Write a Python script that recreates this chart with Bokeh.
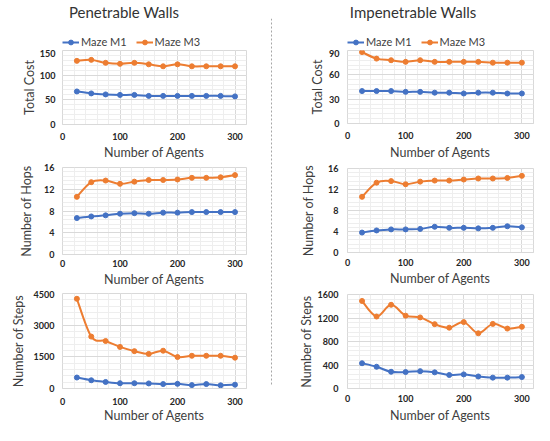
import numpy as np
from bokeh.plotting import figure
from bokeh.models import Range1d, FixedTicker, Legend, LegendItem, Span
from bokeh.layouts import column, row, Spacer
from bokeh.core.properties import value
from bokeh.embed import file_html
from bokeh.resources import INLINE

# ---------------- data ----------------
agents = [25, 50, 75, 100, 125, 150, 175, 200, 225, 250, 275, 300]
x_ticks = [0, 100, 200, 300]
x_max = 320
x_minor_step = 20

series_names = ["Maze M1", "Maze M3"]
col_titles = ["Penetrable Walls", "Impenetrable Walls"]
y_labels = ["Total Cost", "Number of Hops", "Number of Steps"]
x_label = "Number of Agents"

pen_cost_m1 = [67, 63, 61, 60, 60, 58, 58, 58, 58, 58, 58, 57]
pen_cost_m3 = [129, 131, 125, 123, 125, 122, 118, 122, 118, 118, 118, 118]
imp_cost_m1 = [40, 40, 40, 39, 39, 38, 38, 37, 38, 38, 37, 37]
imp_cost_m3 = [88, 80, 78, 76, 78, 76, 76, 76, 76, 75, 75, 75]

pen_hops_m1 = [6.7, 7.0, 7.2, 7.5, 7.6, 7.5, 7.7, 7.7, 7.8, 7.8, 7.8, 7.8]
pen_hops_m3 = [10.6, 13.3, 13.6, 13.0, 13.4, 13.7, 13.7, 13.8, 14.1, 14.1, 14.2, 14.6]
imp_hops_m1 = [3.8, 4.2, 4.4, 4.4, 4.5, 4.9, 4.7, 4.7, 4.6, 4.7, 5.0, 4.8]
imp_hops_m3 = [10.6, 13.3, 13.6, 13.0, 13.5, 13.7, 13.7, 13.9, 14.1, 14.1, 14.2, 14.6]

pen_steps_m1 = [520, 390, 310, 250, 250, 240, 210, 220, 160, 210, 150, 180]
pen_steps_m3 = [4250, 2460, 2250, 1970, 1770, 1640, 1790, 1490, 1550, 1550, 1550, 1460]
imp_steps_m1 = [430, 370, 285, 280, 295, 275, 230, 240, 205, 185, 185, 195]
imp_steps_m3 = [1490, 1225, 1425, 1240, 1210, 1095, 1035, 1130, 940, 1100, 1020, 1050]

pen_cost_ticks = [0, 50, 100, 150]
imp_cost_ticks = [0, 30, 60, 90]
hops_ticks = [0, 4, 8, 12, 16]
pen_steps_ticks = [0, 1500, 3000, 4500]
imp_steps_ticks = [0, 400, 800, 1200, 1600]

# ---------------- style ----------------
BLUE = "#4472C4"
ORANGE = "#ED7D31"
FONT = "Lato"
TICK_COLOR = "#262626"
LABEL_COLOR = "#404040"
MAJOR_GRID = "#d9d9d9"
MINOR_GRID = "#eeeeee"


def bezier_parts(xs, ys):
    x = np.asarray(xs, float)
    y = np.asarray(ys, float)
    n = len(x)
    xp = np.concatenate([[x[0]], x, [x[-1]]])
    yp = np.concatenate([[y[0]], y, [y[-1]]])
    cx0 = x[:-1] + (xp[2:n + 1] - xp[0:n - 1]) / 6.0
    cy0 = y[:-1] + (yp[2:n + 1] - yp[0:n - 1]) / 6.0
    cx1 = x[1:] - (xp[3:n + 2] - xp[1:n]) / 6.0
    cy1 = y[1:] - (yp[3:n + 2] - yp[1:n]) / 6.0
    return dict(x0=x[:-1], y0=y[:-1], x1=x[1:], y1=y[1:],
                cx0=cx0, cy0=cy0, cx1=cx1, cy1=cy1)


def make_panel(fw, fh, fl, fr, ft, fb, yticks, ylabel, m1, m3,
               xls, xas, yls, yas):
    ymax = yticks[-1]
    ystep = (yticks[1] - yticks[0]) / 5.0
    p = figure(width=fl + fw + fr, height=ft + fh + fb,
               min_border_left=fl, min_border_right=fr,
               min_border_top=ft, min_border_bottom=fb,
               x_range=Range1d(0, x_max), y_range=Range1d(0, ymax),
               output_backend="svg", toolbar_location=None, title=None)
    p.outline_line_color = MAJOR_GRID
    p.outline_line_width = 1
    p.background_fill_color = "white"
    p.border_fill_color = "white"

    p.xaxis.ticker = FixedTicker(ticks=x_ticks,
                                 minor_ticks=list(range(0, x_max + 1, x_minor_step)))
    p.yaxis.ticker = FixedTicker(ticks=yticks,
                                 minor_ticks=[ystep * i for i in range(int(round(ymax / ystep)) + 1)])

    for ax, lab, ls, las in ((p.xaxis, x_label, xls, xas), (p.yaxis, ylabel, yls, yas)):
        ax.axis_label = lab
        ax.axis_label_text_font = FONT
        ax.axis_label_text_font_style = "normal"
        ax.axis_label_text_font_size = "12.5px"
        ax.axis_label_text_color = LABEL_COLOR
        ax.major_label_text_font = FONT
        ax.major_label_text_font_size = "9px"
        ax.major_label_text_font_style = "bold"
        ax.major_label_text_color = TICK_COLOR
        ax.major_label_standoff = ls
        ax.axis_label_standoff = las
        ax.major_tick_line_color = None
        ax.minor_tick_line_color = None
        ax.major_tick_out = 0
        ax.major_tick_in = 0
        ax.minor_tick_out = 0
        ax.minor_tick_in = 0
    p.xaxis.axis_line_color = MAJOR_GRID
    p.yaxis.axis_line_color = None

    for g in (p.xgrid, p.ygrid):
        g.grid_line_color = MAJOR_GRID
        g.grid_line_width = 1
        g.minor_grid_line_color = MINOR_GRID
        g.minor_grid_line_width = 1

    for ys, c in ((m1, BLUE), (m3, ORANGE)):
        p.bezier(line_color=c, line_width=2, source=bezier_parts(agents, ys))
        p.scatter(agents, ys, size=5, marker="circle", fill_color=c, line_color=c)
    return p


def make_header(w, h, title, tx, lx, bottom):
    # frame starts where the legend starts; data units = screen pixels
    fw = w - lx
    fh = h - bottom
    hp = figure(width=w, height=h,
                min_border_left=lx, min_border_right=0,
                min_border_top=0, min_border_bottom=bottom,
                x_range=Range1d(0, fw), y_range=Range1d(fh, 0),
                output_backend="svg", toolbar_location=None,
                x_axis_type=None, y_axis_type=None, title=None)
    hp.outline_line_color = None
    hp.grid.visible = False
    hp.text(x=[tx - lx], y=[11], text=[title], text_align="center", text_baseline="middle",
            text_font=value(FONT), text_font_size="15px", text_color="#333333")
    items = []
    for name, c in zip(series_names, (BLUE, ORANGE)):
        lr = hp.line(x=[-60, -40], y=[-50, -50], line_color=c, line_width=2)
        sr = hp.scatter(x=[-50], y=[-50], size=5, marker="circle", fill_color=c, line_color=c)
        items.append(LegendItem(label=name, renderers=[lr, sr]))
    leg = Legend(items=items, orientation="horizontal", location="bottom_left",
                 padding=0, margin=0, spacing=9, label_standoff=2,
                 glyph_width=17, glyph_height=12, label_height=12,
                 label_text_font=FONT, label_text_font_size="11px",
                 label_text_color=LABEL_COLOR,
                 border_line_color=None, background_fill_alpha=0)
    hp.add_layout(leg)
    return hp


# ---------------- left column (width 268) ----------------
lh = make_header(268, 49, col_titles[0], 131, 62, 1)
l1 = make_panel(206, 75, 40, 22, 1, 37, pen_cost_ticks, y_labels[0],
                pen_cost_m1, pen_cost_m3, 8, 2, 7, 0)
l2 = make_panel(204, 87, 43, 21, 5, 36, hops_ticks, y_labels[1],
                pen_hops_m1, pen_hops_m3, 5, 2, 8, 7)
l3 = make_panel(207, 98, 51, 10, 3, 34, pen_steps_ticks, y_labels[2],
                pen_steps_m1, pen_steps_m3, 9, 0, 8, 5)
left = column(lh, l1, l2, l3)

# ---------------- separator (width 6) ----------------
sep = figure(width=6, height=367, x_range=Range1d(0, 6), y_range=Range1d(0, 1),
             min_border=0, output_backend="svg", toolbar_location=None,
             x_axis_type=None, y_axis_type=None, title=None)
sep.outline_line_color = None
sep.grid.visible = False
sep.add_layout(Span(location=3, dimension="height", line_color="#a6a6a6",
                    line_width=1, line_dash="2 2"))
sepcol = column(Spacer(width=6, height=18), sep)

# ---------------- right column (width 260) ----------------
rh = make_header(260, 49, col_titles[1], 139, 73, 1)
r1 = make_panel(211, 75, 48, 1, 1, 37, imp_cost_ticks, y_labels[0],
                imp_cost_m1, imp_cost_m3, 8, 3, 8, 1)
r2 = make_panel(203, 84, 56, 1, 6, 38, hops_ticks, y_labels[1],
                imp_hops_m1, imp_hops_m3, 6, 2, 9, 9)
r3 = make_panel(199, 95, 60, 1, 4, 36, imp_steps_ticks, y_labels[2],
                imp_steps_m1, imp_steps_m3, 6, 3, 9, 1)
right = column(rh, r1, r2, r3)

page = row(left, sepcol, right)

open("out.html", "w").write(file_html(page, INLINE))
